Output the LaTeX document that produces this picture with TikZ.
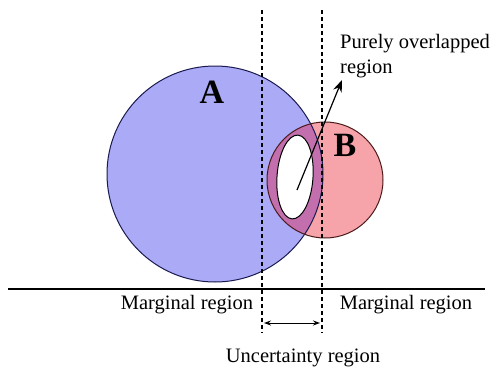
\documentclass[tikz,border=0pt]{standalone}
\usepackage{fontspec}
\setmainfont{Liberation Serif}
\usetikzlibrary{arrows.meta}
\definecolor{afill}{HTML}{AAAAF6}
\definecolor{bfill}{HTML}{F6A4AA}
\definecolor{ovfill}{HTML}{C36FAE}
\definecolor{aline}{HTML}{1A1A50}
\definecolor{bline}{HTML}{4A1A1A}
\tikzset{
  lbl/.style={font=\fontsize{20.5}{22}\selectfont, inner sep=0pt, align=left},
  big/.style={font=\fontsize{34}{36}\selectfont\bfseries, inner sep=0pt},
  guide/.style={line width=1.1pt, dash pattern=on 4pt off 3pt},
}
\begin{document}
\begin{tikzpicture}[x=1pt,y=-1pt]
\useasboundingbox (0,0) rectangle (491,367);
% circles
\fill[afill] (215,174) circle (108);
\fill[bfill] (325,180) circle (58);
\begin{scope}
  \clip (215,174) circle (108);
  \fill[ovfill] (325,180) circle (58);
\end{scope}
\draw[aline, line width=1pt] (215,174) circle (108);
\draw[bline, line width=1pt] (325,180) circle (58);
\draw[fill=white, line width=1pt] (295,177) ellipse [x radius=18, y radius=42, rotate=-4];
% labels in circles
\node[big] (A) at (212,92) {A};
\node[big] (B) at (345,145) {B};
% guides
\coordinate (g1t) at (262,10);
\coordinate (g1b) at (262,333);
\coordinate (g2t) at (322,10);
\coordinate (g2b) at (322,333);
\draw[guide] (g1t) -- (g1b);
\draw[guide] (g2t) -- (g2b);
\coordinate (hl) at (8,289);
\coordinate (hr) at (485,289);
\draw[line width=1.1pt] (hl) -- (hr);
\coordinate (u1) at (264,323);
\coordinate (u2) at (320,323);
\draw[line width=1pt, {Stealth[length=7pt,width=5pt]}-{Stealth[length=7pt,width=5pt]}] (u1) -- (u2);
% arrow to purely overlapped
\coordinate (p0) at (297,190);
\coordinate (p1) at (342,80);
\draw[line width=1.2pt, -{Stealth[length=12pt,width=9pt]}] (p0) -- (p1);
% texts
\node[lbl, anchor=base west] (po) at (340,48) {Purely overlapped};
\node[lbl, anchor=base west] (por) at (340,73) {region};
\node[lbl, anchor=base] (ml) at (187,309) {Marginal region};
\node[lbl, anchor=base] (mr) at (406,309) {Marginal region};
\node[lbl, anchor=base] (ur) at (303,362) {Uncertainty region};
\end{tikzpicture}
\end{document}
